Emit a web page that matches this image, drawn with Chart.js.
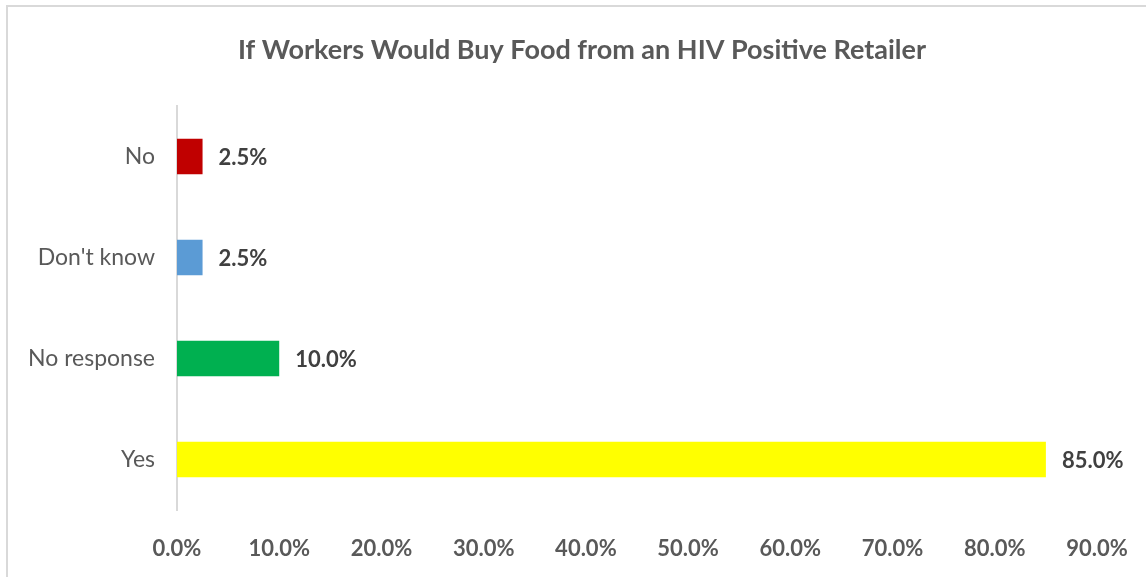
<!DOCTYPE html>
<html>
<head>
<meta charset="utf-8">
<script src="https://cdn.jsdelivr.net/npm/chart.js@4"></script>
<style>
    html, body { margin: 0; padding: 0; background: #fff; overflow: hidden; }
    #frame { position: absolute; left: 6px; top: 5px; width: 1300px; height: 700px; border: 2px solid #d9d9d9; }
    #wrap { position: absolute; left: 0; top: 0; width: 1146px; height: 577px; }
</style>
</head>
<body>
<div id="frame"></div>
<div id="wrap"><canvas id="chart"></canvas></div>
<script>
(function() {
    const titleText = 'If Workers Would Buy Food from an HIV Positive Retailer';
    const categories = ['No', "Don't know", 'No response', 'Yes'];
    const values = [2.5, 2.5, 10.0, 85.0];
    const barColors = ['#C00000', '#5B9BD5', '#00B050', '#FFFF00'];
    const tickValues = [0, 10, 20, 30, 40, 50, 60, 70, 80, 90];

    const font = 'Lato, "Open Sans", sans-serif';

    // value next to each bar end, plus the title (centred on the whole frame, not the chart box)
    const extraText = {
        id: 'extraText',
        afterDatasetsDraw(chart) {
            const ctx = chart.ctx;
            const meta = chart.getDatasetMeta(0);
            ctx.save();
            ctx.font = 'bold 22px ' + font;
            ctx.fillStyle = '#404040';
            ctx.textAlign = 'left';
            ctx.textBaseline = 'middle';
            meta.data.forEach((bar, i) => {
                ctx.fillText(values[i].toFixed(1) + '%', bar.x + 16, bar.y + 1);
            });

            ctx.font = 'bold 27px ' + font;
            ctx.fillStyle = '#595959';
            ctx.textAlign = 'center';
            ctx.fillText(titleText, 582, 50);
            ctx.restore();
        }
    };

    new Chart(
        document.getElementById('chart'),
        {
            type: 'bar',
            data: {
                labels: categories,
                datasets: [
                    {
                        data: values,
                        backgroundColor: barColors,
                        borderWidth: 0,
                        barPercentage: 0.35,
                        categoryPercentage: 1
                    }
                ]
            },
            options: {
                indexAxis: 'y',
                responsive: true,
                maintainAspectRatio: false,
                animation: false,
                layout: {
                    padding: { left: 0, right: 49, top: 106, bottom: 0 }
                },
                plugins: {
                    legend: { display: false },
                    tooltip: { enabled: false },
                    title: { display: false }
                },
                scales: {
                    x: {
                        min: 0,
                        max: 90,
                        afterBuildTicks: (scale) => {
                            scale.ticks = tickValues.map(v => ({ value: v }));
                        },
                        afterFit: (scale) => {
                            scale.height = 67;
                            scale.paddingLeft = 0;
                            scale.paddingRight = 0;
                        },
                        grid: { display: false, drawTicks: false },
                        border: { display: false },
                        ticks: {
                            padding: 26,
                            color: '#595959',
                            font: { family: font, size: 22, weight: 'bold' },
                            maxRotation: 0,
                            callback: (v) => Number(v).toFixed(1) + '%'
                        }
                    },
                    y: {
                        afterFit: (scale) => { scale.width = 177; },
                        grid: { display: false, drawTicks: false },
                        border: { display: true, color: '#d9d9d9', width: 2 },
                        ticks: {
                            padding: 22,
                            color: '#595959',
                            font: { family: font, size: 23 }
                        }
                    }
                }
            },
            plugins: [extraText]
        }
    );
})();
</script>
</body>
</html>
